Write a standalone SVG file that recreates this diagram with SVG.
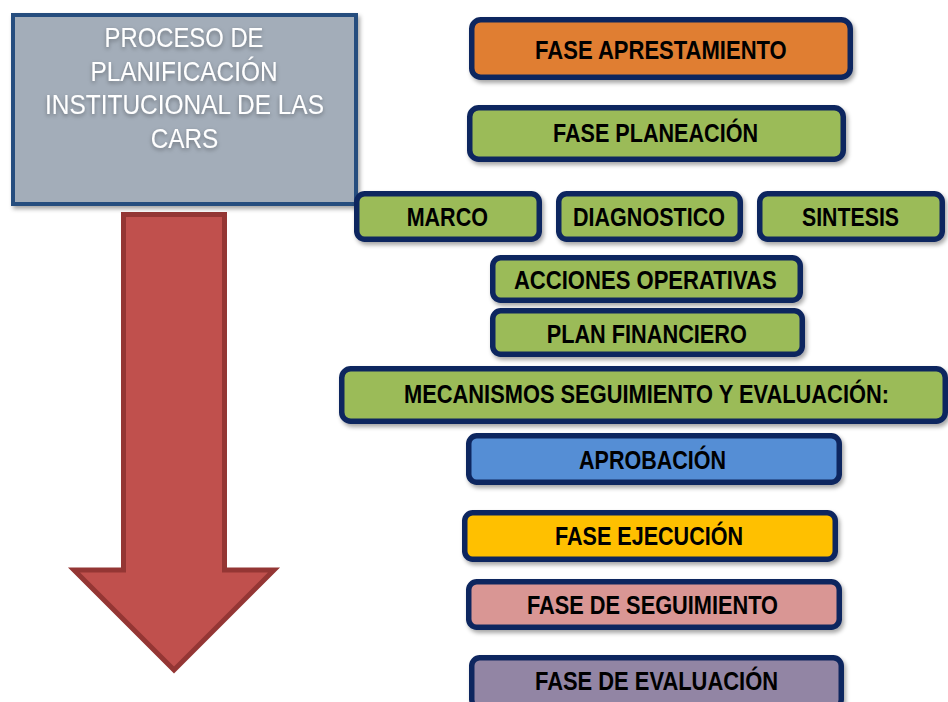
<svg xmlns="http://www.w3.org/2000/svg" width="948" height="702" viewBox="0 0 948 702">
  <defs>
    <filter id="shadow" x="-10%" y="-20%" width="120%" height="150%">
      <feDropShadow dx="2" dy="3" stdDeviation="2" flood-color="#000" flood-opacity="0.35"/>
    </filter>
    <filter id="tshadow" x="-10%" y="-30%" width="120%" height="160%">
      <feDropShadow dx="0" dy="2" stdDeviation="2" flood-color="#000" flood-opacity="0.35"/>
    </filter>
    <style>
      .box { stroke: #10275E; stroke-width: 5.5; filter: url(#shadow); }
      .lbl { font-family: "Liberation Sans Narrow", "Liberation Sans", Arial, sans-serif; font-size: 26px; font-weight: bold; fill: #000; text-anchor: middle; }
      .ttl { font-family: "Liberation Sans Narrow", "Liberation Sans", Arial, sans-serif; font-size: 28px; fill: #fff; text-anchor: middle; filter: url(#tshadow); }
      .green { fill: #9BBB59; }
    </style>
  </defs>
  <rect width="948" height="702" fill="#fff"/>

  <g id="connectors">
    <path id="flow-arrow" d="M123.5,214.5 H224.5 V570 H274 L174,670 L74,570 H123.5 Z" fill="#C0504D" stroke="#943634" stroke-width="5" stroke-linejoin="miter"/>
  </g>

  <g id="title">
    <rect x="13" y="15" width="343" height="189" fill="#A3ADB9" stroke="#284D7E" stroke-width="4" filter="url(#shadow)"/>
    <text class="ttl" x="184" y="47" textLength="159" lengthAdjust="spacingAndGlyphs">PROCESO DE</text>
    <text class="ttl" x="184" y="80.5" textLength="187" lengthAdjust="spacingAndGlyphs">PLANIFICACIÓN</text>
    <text class="ttl" x="184.5" y="114.3" textLength="279" lengthAdjust="spacingAndGlyphs">INSTITUCIONAL DE LAS</text>
    <text class="ttl" x="184.5" y="148" textLength="67.7" lengthAdjust="spacingAndGlyphs">CARS</text>
  </g>

  <g id="fase-aprestamiento">
    <rect class="box" x="471.75" y="19.75" width="378.5" height="57.5" rx="9" fill="#E07E31"/>
    <text class="lbl" x="660.9" y="58.5" textLength="251.7" lengthAdjust="spacingAndGlyphs">FASE APRESTAMIENTO</text>
  </g>

  <g id="fase-planeacion">
    <rect class="box green" x="469.75" y="107.75" width="373.5" height="51.5" rx="9"/>
    <text class="lbl" x="655.5" y="142" textLength="205" lengthAdjust="spacingAndGlyphs">FASE PLANEACIÓN</text>
  </g>

  <g id="marco">
    <rect class="box green" x="356.75" y="193.75" width="182.5" height="45.5" rx="8"/>
    <text class="lbl" x="447.3" y="226" textLength="81.3" lengthAdjust="spacingAndGlyphs">MARCO</text>
  </g>

  <g id="diagnostico">
    <rect class="box green" x="558.75" y="193.75" width="181.5" height="45.5" rx="8"/>
    <text class="lbl" x="649" y="226" textLength="152" lengthAdjust="spacingAndGlyphs">DIAGNOSTICO</text>
  </g>

  <g id="sintesis">
    <rect class="box green" x="759.75" y="193.75" width="182.5" height="45.5" rx="8"/>
    <text class="lbl" x="850.5" y="226" textLength="97" lengthAdjust="spacingAndGlyphs">SINTESIS</text>
  </g>

  <g id="acciones-operativas">
    <rect class="box green" x="492.75" y="257.75" width="307.5" height="42.5" rx="8"/>
    <text class="lbl" x="645.3" y="289.3" textLength="262.7" lengthAdjust="spacingAndGlyphs">ACCIONES OPERATIVAS</text>
  </g>

  <g id="plan-financiero">
    <rect class="box green" x="492.75" y="310.75" width="309.5" height="43.5" rx="8"/>
    <text class="lbl" x="646.8" y="342.7" textLength="200.3" lengthAdjust="spacingAndGlyphs">PLAN FINANCIERO</text>
  </g>

  <g id="mecanismos">
    <rect class="box green" x="341.75" y="368.75" width="603.5" height="52.5" rx="9"/>
    <text class="lbl" x="646.5" y="403.3" textLength="485" lengthAdjust="spacingAndGlyphs">MECANISMOS SEGUIMIENTO Y EVALUACIÓN:</text>
  </g>

  <g id="aprobacion">
    <rect class="box" x="468.75" y="435.75" width="370.5" height="46.5" rx="8" fill="#558ED5"/>
    <text class="lbl" x="652.5" y="469.3" textLength="147" lengthAdjust="spacingAndGlyphs">APROBACIÓN</text>
  </g>

  <g id="fase-ejecucion">
    <rect class="box" x="464.75" y="512.75" width="370.5" height="46.5" rx="8" fill="#FFC000"/>
    <text class="lbl" x="649" y="545" textLength="188" lengthAdjust="spacingAndGlyphs">FASE EJECUCIÓN</text>
  </g>

  <g id="fase-seguimiento">
    <rect class="box" x="468.75" y="581.75" width="370.5" height="45.5" rx="8" fill="#D99694"/>
    <text class="lbl" x="652.5" y="614" textLength="251" lengthAdjust="spacingAndGlyphs">FASE DE SEGUIMIENTO</text>
  </g>

  <g id="fase-evaluacion">
    <rect class="box" x="471.75" y="657.75" width="369.5" height="50" rx="8" fill="#9285A4"/>
    <text class="lbl" x="656.5" y="690" textLength="243" lengthAdjust="spacingAndGlyphs">FASE DE EVALUACIÓN</text>
  </g>
</svg>
